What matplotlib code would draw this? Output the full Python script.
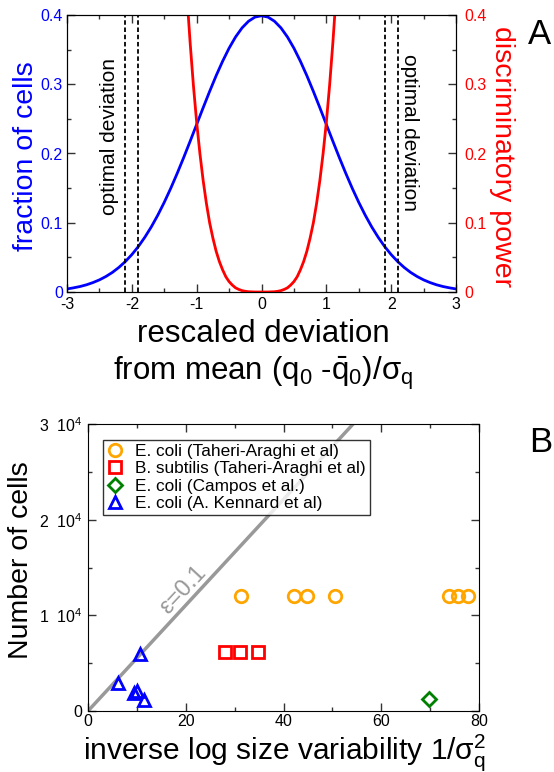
import matplotlib
matplotlib.use("Agg")
import matplotlib.pyplot as plt
from matplotlib.ticker import MultipleLocator, FuncFormatter

plt.rcParams["font.family"] = ["Liberation Sans", "DejaVu Sans"]
plt.rcParams["mathtext.fontset"] = "custom"
plt.rcParams["mathtext.rm"] = "Liberation Sans"
plt.rcParams["mathtext.it"] = "Liberation Sans:italic"
plt.rcParams["axes.unicode_minus"] = False

# ---- panel A data ----
frac_x = [-3.0, -2.9, -2.8, -2.7, -2.6, -2.5, -2.4, -2.3, -2.2, -2.1, -2.0, -1.9, -1.8, -1.7, -1.6,
          -1.5, -1.4, -1.3, -1.2, -1.1, -1.0, -0.9, -0.8, -0.7, -0.6, -0.5, -0.4, -0.3, -0.2, -0.1,
          0.0, 0.1, 0.2, 0.3, 0.4, 0.5, 0.6, 0.7, 0.8, 0.9, 1.0, 1.1, 1.2, 1.3, 1.4, 1.5, 1.6, 1.7,
          1.8, 1.9, 2.0, 2.1, 2.2, 2.3, 2.4, 2.5, 2.6, 2.7, 2.8, 2.9, 3.0]
frac_y = [0.0044, 0.0060, 0.0079, 0.0104, 0.0136, 0.0175, 0.0224, 0.0283, 0.0355, 0.0440, 0.0540,
          0.0656, 0.0790, 0.0940, 0.1109, 0.1295, 0.1497, 0.1714, 0.1942, 0.2179, 0.2420, 0.2661,
          0.2897, 0.3123, 0.3332, 0.3521, 0.3683, 0.3814, 0.3910, 0.3970, 0.3989, 0.3970, 0.3910,
          0.3814, 0.3683, 0.3521, 0.3332, 0.3123, 0.2897, 0.2661, 0.2420, 0.2179, 0.1942, 0.1714,
          0.1497, 0.1295, 0.1109, 0.0940, 0.0790, 0.0656, 0.0540, 0.0440, 0.0355, 0.0283, 0.0224,
          0.0175, 0.0136, 0.0104, 0.0079, 0.0060, 0.0044]

disc_x = [-1.13, -1.1, -1.05, -1.0, -0.95, -0.9, -0.85, -0.8, -0.75, -0.7, -0.65, -0.6, -0.55, -0.5,
          -0.45, -0.4, -0.35, -0.3, -0.25, -0.2, -0.1, 0.0, 0.1, 0.2, 0.25, 0.3, 0.35, 0.4, 0.45,
          0.5, 0.55, 0.6, 0.65, 0.7, 0.75, 0.8, 0.85, 0.9, 0.95, 1.0, 1.05, 1.1, 1.13]
disc_y = [0.400, 0.359, 0.298, 0.245, 0.200, 0.161, 0.128, 0.100, 0.078, 0.059, 0.044, 0.032, 0.022, 0.015,
          0.010, 0.006, 0.0037, 0.002, 0.001, 0.0004, 0.0, 0.0, 0.0, 0.0004, 0.001, 0.002, 0.0037, 0.006, 0.010,
          0.015, 0.022, 0.032, 0.044, 0.059, 0.078, 0.100, 0.128, 0.161, 0.200, 0.245, 0.298, 0.359, 0.400]

optimal_dev = [-2.1, -1.9, 1.9, 2.1]

# ---- panel B data ----
taheri_ecoli_x = [31.3, 42.1, 44.8, 50.5, 73.8, 75.7, 77.7]
taheri_ecoli_y = [12000, 12000, 12000, 12000, 12000, 12000, 12000]
taheri_bsub_x = [28.0, 31.1, 34.8]
taheri_bsub_y = [6150, 6150, 6150]
campos_x = [69.8]
campos_y = [1250]
kennard_x = [6.2, 9.5, 10.0, 10.6, 11.5]
kennard_y = [2900, 1850, 2050, 6000, 1150]
eps_line_x = [0, 80]
eps_line_y = [0, 80 * 553]

W, H = 554, 772
fig = plt.figure(figsize=(W / 100, H / 100), dpi=100)


def fx(px):
    return px / W


def fy(py):
    return 1 - py / H


def style_ticks(a, **kw):
    a.tick_params(which="both", direction="in", color="#333333", **kw)
    a.tick_params(which="major", length=6, width=1)
    a.tick_params(which="minor", length=3, width=1)


zero_fmt = FuncFormatter(lambda v, p: "0" if abs(v) < 1e-9 else f"{v:g}")

# ================= panel A =================
ax = fig.add_axes([fx(67), fy(292), fx(456 - 67), (292 - 15) / H])
ax.plot(frac_x, frac_y, color="#0000ff", lw=2)
for xv in optimal_dev:
    ax.plot([xv, xv], [0, 0.4], color="black", lw=1.3, ls=(0, (2.5, 1.5)))
ax.set_xlim(-3, 3)
ax.set_ylim(0, 0.4)
ax.xaxis.set_major_locator(MultipleLocator(1))
ax.xaxis.set_minor_locator(MultipleLocator(0.5))
ax.yaxis.set_major_locator(MultipleLocator(0.1))
ax.yaxis.set_minor_locator(MultipleLocator(0.05))
ax.yaxis.set_major_formatter(zero_fmt)
style_ticks(ax, top=True, labelsize=11.5)
ax.tick_params(axis="y", labelcolor="#0000ff", pad=3)
ax.tick_params(axis="x", pad=3.5)
ax.text(-2.34, 0.224, "optimal deviation", rotation=90, ha="center", va="center", fontsize=15)
ax.text(2.29, 0.231, "optimal deviation", rotation=-90, ha="center", va="center", fontsize=15)

ax2 = ax.twinx()
ax2.plot(disc_x, disc_y, color="#ff0000", lw=2)
ax2.set_ylim(0, 0.4)
ax2.yaxis.set_major_locator(MultipleLocator(0.1))
ax2.yaxis.set_minor_locator(MultipleLocator(0.05))
ax2.yaxis.set_major_formatter(zero_fmt)
style_ticks(ax2, labelsize=11.5, labelcolor="#ff0000", pad=6)

fig.text(fx(26), fy(156), "fraction of cells", color="#0000ff", fontsize=20.5,
         rotation=90, ha="center", va="center")
fig.text(fx(502), fy(156), "discriminatory power", color="#ff0000", fontsize=20.5,
         rotation=270, ha="center", va="center")
fig.text(fx(263), fy(342), "rescaled deviation", fontsize=22.5, ha="center", va="baseline")
fig.text(fx(263), fy(380),
         "from mean (q$_\\mathrm{0}$ -$\\bar{\\mathrm{q}}_\\mathrm{0}$)/σ$_\\mathrm{q}$",
         fontsize=22.5, ha="center", va="baseline")
fig.text(fx(539), fy(35), "A", fontsize=25, ha="center", va="center")

# ================= panel B =================
bx = fig.add_axes([fx(88), fy(711), fx(479 - 88), (711 - 424) / H])
bx.plot(eps_line_x, eps_line_y, color="#999999", lw=2.5, zorder=1)
mk = dict(ls="none", markersize=9, markeredgewidth=2, markerfacecolor="none")
bx.plot(taheri_ecoli_x, taheri_ecoli_y, marker="o", color="#ffa500",
        label="E. coli (Taheri-Araghi et al)", **mk)
bx.plot(taheri_bsub_x, taheri_bsub_y, marker="s", color="#ff0000",
        label="B. subtilis (Taheri-Araghi et al)", **dict(mk, markersize=8))
bx.plot(campos_x, campos_y, marker="D", color="#008000",
        label="E. coli (Campos et al.)", **dict(mk, markersize=7))
bx.plot(kennard_x, kennard_y, marker="^", color="#0000ff",
        label="E. coli (A. Kennard et al)", **mk)
bx.set_xlim(0, 80)
bx.set_ylim(0, 30000)
bx.xaxis.set_major_locator(MultipleLocator(20))
bx.xaxis.set_minor_locator(MultipleLocator(10))
bx.yaxis.set_major_locator(MultipleLocator(10000))
bx.yaxis.set_minor_locator(MultipleLocator(5000))
bx.yaxis.set_major_formatter(FuncFormatter(
    lambda v, p: "0" if v == 0 else f"{int(v / 10000)}  10$^\\mathrm{{4}}$"))
style_ticks(bx, top=True, right=True, labelsize=11.5, pad=4)
bx.tick_params(axis="x", pad=2)
bx.text(19.4, 12650, "ε=0.1", rotation=47, color="#999999", fontsize=17,
        ha="center", va="center")
leg = bx.legend(loc="upper left", bbox_to_anchor=((103 - 88) / 391, (711 - 440) / 287),
                fontsize=12.4, frameon=True, fancybox=False, edgecolor="black",
                handlelength=0.9, handletextpad=0.7, borderpad=0.25, labelspacing=0.12,
                borderaxespad=0)
leg.get_frame().set_linewidth(1)

fig.text(fx(21), fy(560), "Number of cells", fontsize=20.5, rotation=90, ha="center", va="center")
fig.text(fx(285), fy(759), "inverse log size variability 1/σ$_\\mathrm{q}^\\mathrm{2}$",
         fontsize=21.5, ha="center", va="baseline")
fig.text(fx(541), fy(442), "B", fontsize=25, ha="center", va="center")

fig.savefig("out.png", dpi=100)
